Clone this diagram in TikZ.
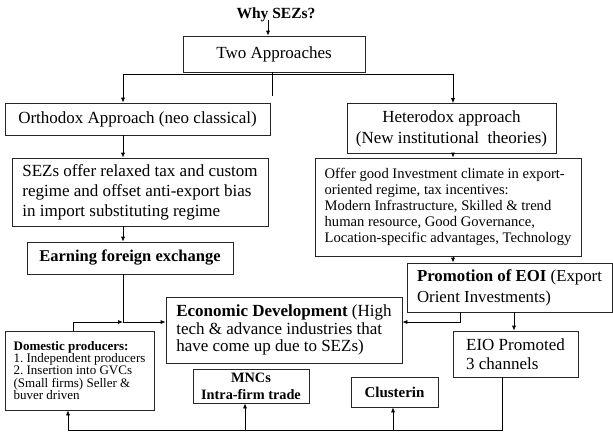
\documentclass[tikz,border=0pt]{standalone}
\usepackage{fontspec}
\setmainfont{Liberation Serif}
\usetikzlibrary{arrows.meta}
\frenchspacing
\begin{document}
\begin{tikzpicture}[x=1pt,y=-1pt,
  box/.style={draw=black!85, line width=0.7pt, inner sep=0pt, anchor=center},
  big/.style={font=\fontsize{17}{20}\selectfont},
  conn/.style={draw=black, line width=0.7pt},
  arr/.style={conn, -{Latex[length=5pt,width=4pt]}}
]
\useasboundingbox (0,0) rectangle (613,432);

% nodes
\node[font=\bfseries\fontsize{15.5}{18}\selectfont, inner sep=0pt] (why) at (276,15) {Why SEZs?};
\node[box, big, minimum width=182pt, minimum height=36pt] (two) at (274,54) {Two Approaches};
\node[box, big, minimum width=265pt, minimum height=32pt] (orth) at (137.5,119) {Orthodox Approach (neo classical)};
\node[box, big, minimum width=209pt, minimum height=50pt, align=center] (het) at (451.5,128.5) {Heterodox approach\\[1pt](New institutional \ theories)};
\node[box, big, minimum width=256pt, minimum height=68pt, align=left] (sez) at (140,192) {SEZs offer relaxed tax and custom\\regime and offset anti-export bias\\in import substituting regime};
\node[box, font=\fontsize{14.6}{15.8}\selectfont, minimum width=266pt, minimum height=98pt, align=left] (offer) at (448,207) {Offer good Investment climate in export-\\oriented regime, tax incentives:\\Modern Infrastructure, Skilled \& trend\\human resource, Good Governance,\\Location-specific advantages, Technology};
\node[box, font=\bfseries\fontsize{16.5}{20}\selectfont, minimum width=206pt, minimum height=32pt, align=left] (earn) at (130,258) {Earning foreign exchange};
\node[box, font=\fontsize{16.8}{21}\selectfont, minimum width=205pt, minimum height=49pt, align=left] (promo) at (509.5,287.5) {\textbf{Promotion of EOI} (Export\\Orient Investments)};
\node[box, font=\fontsize{17}{17.5}\selectfont, minimum width=236pt, minimum height=66pt, align=left] (econ) at (284,330) {\textbf{Economic Development} (High\\tech \& advance industries that\\have come up due to SEZs)};
\node[box, font=\fontsize{13}{12.2}\selectfont, minimum width=149pt, minimum height=79pt, align=left] (dom) at (79.5,370.5) {\textbf{Domestic producers:}\\1. Independent producers\\2. Insertion into GVCs\\(Small firms) Seller \&\\buver driven};
\node[box, font=\bfseries\fontsize{14.3}{17}\selectfont, minimum width=116pt, minimum height=34pt, align=center] (mnc) at (251,386) {MNCs\\Intra-firm trade};
\node[box, font=\bfseries\fontsize{15}{17}\selectfont, minimum width=87pt, minimum height=30pt] (clus) at (394.5,392) {Clusterin};
\node[box, font=\fontsize{17}{19.5}\selectfont, minimum width=125pt, minimum height=46pt, align=left] (eio) at (515.5,354) {EIO Promoted\\3 channels};

% helper coordinates
\coordinate (whyarr) at (268,20);
\coordinate (stub) at (272,96);
\coordinate (hl) at (123,74);
\coordinate (hr) at (453,74);
\coordinate (lx) at (123,0);
\coordinate (jn) at (123,322);
\coordinate (dtop) at (73,322);
\coordinate (pj) at (460,322);
\coordinate (px) at (514,0);
\coordinate (eb) at (502,430);
\coordinate (bl) at (68,430);
\coordinate (mx) at (245,430);
\coordinate (cx) at (393,430);

% connectors
\draw[arr] (whyarr) -- (whyarr |- two.north);
\draw[conn] (two.south -| stub) -- (stub);
\draw[conn] (hl) -- (hr);
\draw[arr] (hl) -- (hl |- orth.north);
\draw[arr] (hr) -- (hr |- het.north);
\draw[arr] (orth.south -| lx) -- (sez.north -| lx);
\draw[arr] (sez.south -| lx) -- (earn.north -| lx);
\draw[arr] (earn.south -| lx) -- (jn) -- (jn -| econ.west);
\draw[arr] (dom.north -| dtop) -- (dtop) -- (jn);
\draw[arr] (het.south -| hr) -- (offer.north -| hr);
\draw[arr] (offer.south -| hr) -- (promo.north -| hr);
\draw[arr] (promo.south -| pj) -- (pj) -- (pj -| econ.east);
\draw[arr] (promo.south -| px) -- (eio.north -| px);
\draw[arr] (eio.south -| eb) -- (eb) -- (bl) -- (bl |- dom.south);
\draw[arr] (mx) -- (mx |- mnc.south);
\draw[arr] (cx) -- (cx |- clus.south);
\end{tikzpicture}
\end{document}
